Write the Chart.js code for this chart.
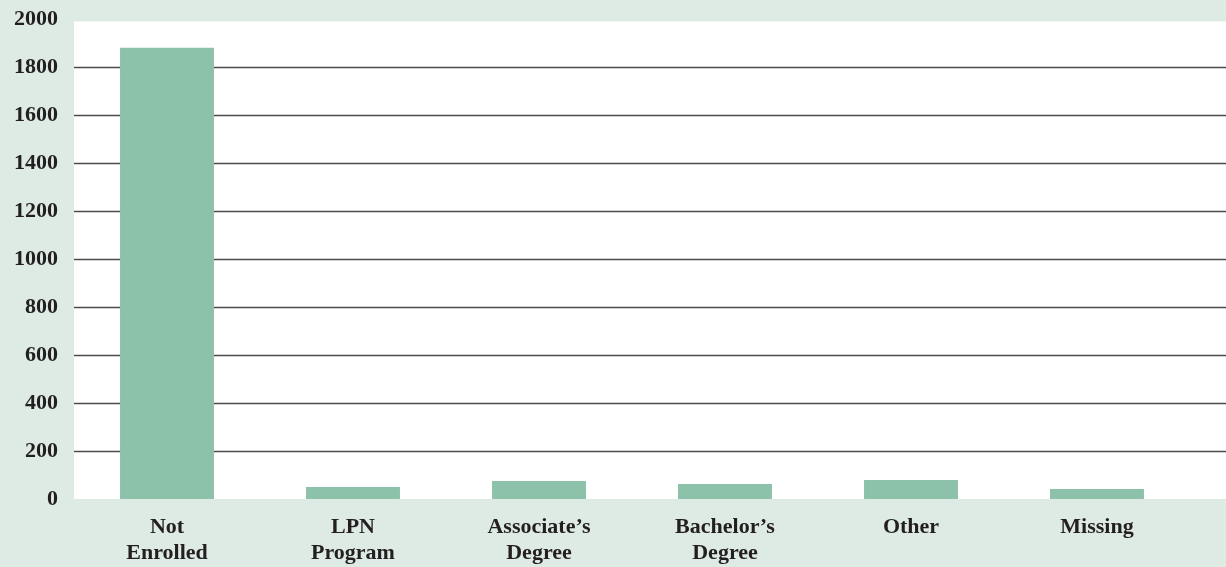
<!DOCTYPE html>
<html>
<head>
<meta charset="utf-8">
<script src="https://cdn.jsdelivr.net/npm/chart.js@4.4.1/dist/chart.umd.min.js"></script>
<style>
  html, body { margin: 0; padding: 0; background: #deebe4; }
  #wrap { width: 1226px; height: 567px; position: relative; }
</style>
</head>
<body>
<div id="wrap"><canvas id="grafico"></canvas></div>
<script>
// categorias e valores
const categorias = [
    ['Not', 'Enrolled'],
    ['LPN', 'Program'],
    ['Associate\u2019s', 'Degree'],
    ['Bachelor\u2019s', 'Degree'],
    ['Other'],
    ['Missing'],
];
const valores = [1880, 50, 75, 62, 79, 42];
const ticksY = [0, 200, 400, 600, 800, 1000, 1200, 1400, 1600, 1800, 2000];

const fonte = {
    size: 22,
    family: 'Liberation Serif',
    weight: 'bold'
};

// fundo branco da area do grafico e linhas que seguem ate a borda direita
const fundoPlugin = {
    id: 'fundo',
    beforeDraw(chart) {
        const ctx = chart.ctx;
        const area = chart.chartArea;
        const y = chart.scales.y;
        const topo = y.getPixelForValue(1990);
        ctx.save();
        ctx.fillStyle = '#ffffff';
        ctx.fillRect(area.left, topo, chart.width - area.left, area.bottom - topo);
        ctx.restore();
    },
    afterDatasetsDraw(chart) {
        const ctx = chart.ctx;
        const area = chart.chartArea;
        const y = chart.scales.y;
        ctx.save();
        ctx.strokeStyle = '#4a4a4a';
        ctx.lineWidth = 1.3;
        ticksY.forEach(v => {
            if (v === 0 || v === 2000) return;
            const py = Math.round(y.getPixelForValue(v)) + 0.5;
            // linhas nao passam por cima das barras
            let inicio = area.left;
            const segs = [];
            chart.getDatasetMeta(0).data.forEach((bar, i) => {
                if (valores[i] >= v) {
                    segs.push([inicio, bar.x - bar.width / 2]);
                    inicio = bar.x + bar.width / 2;
                }
            });
            segs.push([inicio, chart.width]);
            segs.forEach(s => {
                ctx.beginPath();
                ctx.moveTo(s[0], py);
                ctx.lineTo(s[1], py);
                ctx.stroke();
            });
        });
        ctx.restore();
    }
};

const dados = {
    labels: categorias,
    datasets: [{
        label: 'Students',
        data: valores,
        backgroundColor: '#8cc2aa',
        borderWidth: 0,
        categoryPercentage: 1,
        barPercentage: 0.505
    }]
};

const config = {
    type: 'bar',
    data: dados,
    options: {
        responsive: true,
        maintainAspectRatio: false,
        animation: false,
        layout: {
            padding: { top: 19, right: 36, left: 0, bottom: 0 }
        },
        scales: {
            y: {
                min: 0,
                max: 2000,
                afterBuildTicks(scale) {
                    scale.ticks = ticksY.map(v => ({ value: v }));
                },
                afterFit(scale) {
                    scale.width = 74;
                    scale.paddingTop = 0;
                    scale.paddingBottom = 0;
                },
                grid: { display: false, drawTicks: false },
                border: { display: false },
                ticks: {
                    color: '#231f20',
                    padding: 16,
                    font: fonte,
                    callback: v => String(v)
                }
            },
            x: {
                afterFit(scale) {
                    scale.height = 68;
                },
                grid: { display: false, drawTicks: false },
                border: { display: false },
                ticks: {
                    color: '#231f20',
                    padding: 15,
                    maxRotation: 0,
                    autoSkip: false,
                    font: fonte
                }
            }
        },
        plugins: {
            legend: { display: false },
            tooltip: { enabled: false }
        }
    },
    plugins: [fundoPlugin]
};

const grafico = new Chart(document.getElementById('grafico'), config);
</script>
</body>
</html>
